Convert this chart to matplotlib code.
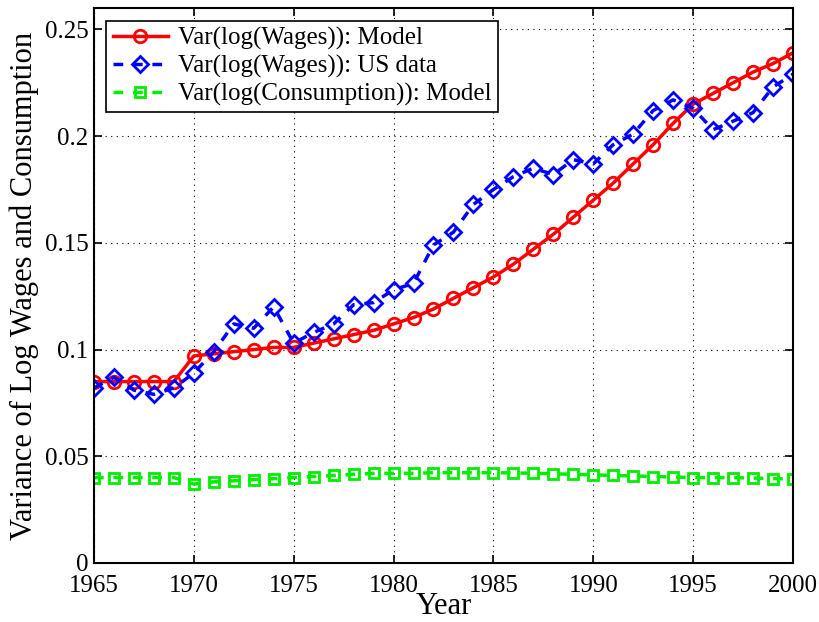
import matplotlib
matplotlib.use('Agg')
import matplotlib.pyplot as plt
import numpy as np

years = np.arange(1965, 2001)

# Var(log wages), model
wages_model = [0.085, 0.085, 0.085, 0.085, 0.085, 0.097, 0.098, 0.099, 0.100, 0.101,
               0.101, 0.103, 0.105, 0.107, 0.109, 0.112, 0.115, 0.119, 0.124, 0.129,
               0.134, 0.140, 0.147, 0.154, 0.162, 0.170, 0.178, 0.187, 0.196, 0.206,
               0.215, 0.220, 0.225, 0.230, 0.234, 0.239]

# Var(log wages), US data
wages_us = [0.082, 0.087, 0.081, 0.079, 0.082, 0.089, 0.099, 0.112, 0.110, 0.120,
            0.103, 0.108, 0.112, 0.121, 0.122, 0.128, 0.131, 0.149, 0.155, 0.168,
            0.175, 0.181, 0.185, 0.182, 0.189, 0.187, 0.196, 0.201, 0.212, 0.217,
            0.213, 0.203, 0.207, 0.211, 0.223, 0.229]

# Var(log consumption), model
cons_model = [0.040, 0.040, 0.040, 0.040, 0.040, 0.037, 0.038, 0.0385, 0.039, 0.0395,
              0.040, 0.0405, 0.041, 0.0415, 0.042, 0.042, 0.042, 0.0423, 0.0423, 0.0423,
              0.0423, 0.0422, 0.042, 0.0418, 0.0415, 0.0413, 0.041, 0.0408, 0.0405, 0.0403,
              0.040, 0.040, 0.040, 0.0398, 0.0395, 0.0395]

plt.rcParams['font.family'] = ['Liberation Serif', 'DejaVu Serif']
plt.rcParams['font.size'] = 18

fig = plt.figure(figsize=(8.2, 6.22), dpi=100)
ax = fig.add_axes([0.1146, 0.0949, 0.8524, 0.8921])

ax.plot(years, wages_model, '-o', color='red', lw=2.5, ms=9, mew=2,
        mfc='none', label='Var(log(Wages)): Model')
ax.plot(years, wages_us, '--D', color='blue', lw=2.5, ms=8, mew=2,
        mfc='none', dashes=(2.8, 2.8), label='Var(log(Wages)): US data')
ax.plot(years, cons_model, '--s', color='#00ee00', lw=2.5, ms=7, mew=2,
        mfc='none', dashes=(2.8, 2.8), label='Var(log(Consumption)): Model')

ax.set_xlim(1965, 2000)
ax.set_ylim(0, 0.26)
ax.set_xticks(np.arange(1965, 2001, 5))
ax.set_yticks([0, 0.05, 0.1, 0.15, 0.2, 0.25])
ax.set_yticklabels(['0', '0.05', '0.1', '0.15', '0.2', '0.25'])
ax.grid(True, linestyle=(0, (1, 4)), color='black', lw=0.8)
ax.tick_params(direction='in', top=True, right=True, length=6, width=1.2)
ax.tick_params(axis='y', pad=4)
ax.tick_params(axis='x', pad=9)
for s in ax.spines.values():
    s.set_linewidth(1.5)

ax.set_xlabel('Year', fontsize=22, labelpad=-4)
ax.set_ylabel('Variance of Log Wages and Consumption', fontsize=22, labelpad=4)

leg = ax.legend(loc='upper left', fancybox=False, edgecolor='black',
                framealpha=1, borderaxespad=0.5, handlelength=2.2,
                handletextpad=0.4, borderpad=0.25, labelspacing=0.2)
leg.get_frame().set_linewidth(1.2)

fig.savefig('out.png', dpi=100)
